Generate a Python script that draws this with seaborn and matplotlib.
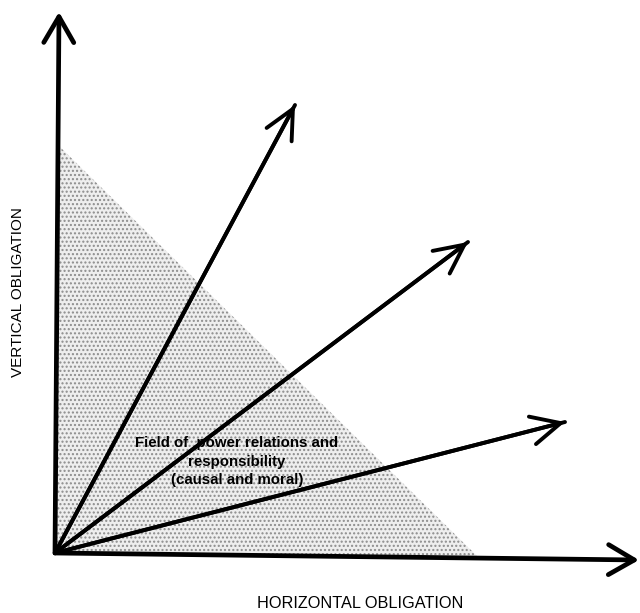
import numpy as np
import pandas as pd
import matplotlib
matplotlib.use("Agg")
import matplotlib.pyplot as plt
import seaborn as sns

# Diagram data (pixel-like coordinate frame, y grows downward)
origin = (55, 553)
axis_names = ["vertical", "horizontal"]
axis_end_x = [59, 639]
axis_end_y = [12, 560]
vector_names = ["v1", "v2", "v3"]
vector_end_x = [295, 468, 565]
vector_end_y = [105, 242, 422]
field_x = [55, 58, 477]
field_y = [553, 145, 556]
field_lines = ["Field of  power relations and", "responsibility", "(causal and moral)"]
x_label = "HORIZONTAL OBLIGATION"
y_label = "VERTICAL OBLIGATION"

sns.set_theme(style="white")
plt.rcParams["font.family"] = ["Liberation Sans", "DejaVu Sans"]
plt.rcParams["text.color"] = "black"

fig = plt.figure(figsize=(6.40, 6.13), dpi=100)
ax = fig.add_axes([0, 0, 1, 1])

# stippled field
ax.fill(field_x, field_y, facecolor="#eeeeee", edgecolor="none", zorder=0)
ax.fill(field_x, field_y, facecolor="none", edgecolor="#8c8c8c", hatch="....",
        linewidth=0, zorder=1)

# vector shafts through seaborn
rows = []
for n, ex, ey in zip(vector_names, vector_end_x, vector_end_y):
    rows.append({"name": n, "x": origin[0], "y": origin[1]})
    rows.append({"name": n, "x": ex, "y": ey})
df = pd.DataFrame(rows)
sns.lineplot(data=df, x="x", y="y", units="name", estimator=None, sort=False,
             color="black", linewidth=2.8, ax=ax, legend=False, zorder=3)
ax.set_xlim(0, 640)
ax.set_ylim(613, 0)
ax.axis("off")

for ex, ey in zip(vector_end_x, vector_end_y):
    ax.annotate("", xy=(ex, ey), xytext=(origin[0], origin[1]),
                arrowprops=dict(arrowstyle="->,head_length=1.75,head_width=0.85",
                                color="black", lw=2.8, shrinkA=0, shrinkB=0),
                zorder=4)

for ex, ey in zip(axis_end_x, axis_end_y):
    ax.annotate("", xy=(ex, ey), xytext=(origin[0], origin[1]),
                arrowprops=dict(arrowstyle="->,head_length=1.55,head_width=0.9",
                                color="black", lw=3.4, shrinkA=0, shrinkB=0),
                zorder=4)

fig.canvas.draw()
renderer = fig.canvas.get_renderer()


def fit_size(s, target, horizontal=True, **kw):
    t = ax.text(0, 0, s, fontsize=10, **kw)
    bb = t.get_window_extent(renderer)
    size = bb.width if horizontal else bb.height
    t.remove()
    return 10 * target / size


field_size = fit_size(field_lines[0], 203, fontweight="bold")
line_y = [443, 462, 480]
for s, yy in zip(field_lines, line_y):
    ax.text(237, yy, s, ha="center", va="center", fontsize=field_size,
            fontweight="bold", zorder=5)
ax.text(360, 604, x_label, ha="center", va="center", fontsize=fit_size(x_label, 206))
ax.text(18, 292, y_label, ha="center", va="center", rotation=90,
        fontsize=fit_size(y_label, 170, horizontal=False, rotation=90))

fig.savefig("out.png", dpi=100, facecolor="white")
